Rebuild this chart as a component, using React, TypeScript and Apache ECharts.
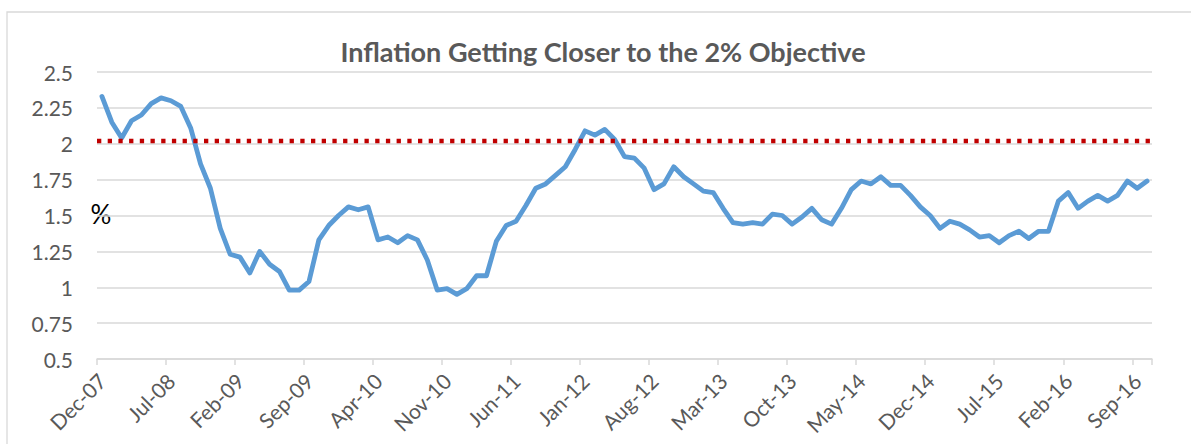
import React, { useEffect, useRef } from "react";
import * as echarts from "echarts";

const TITLE = "Inflation Getting Closer to the 2% Objective";
const START_YEAR = 2007;
const START_MONTH = 11; // December (0-based)
const MONTH_NAMES = ["Jan", "Feb", "Mar", "Apr", "May", "Jun", "Jul", "Aug", "Sep", "Oct", "Nov", "Dec"];

const inflation: number[] = [
  2.33, 2.15, 2.04, 2.16, 2.2, 2.28, 2.32, 2.3, 2.26, 2.11,
  1.86, 1.69, 1.41, 1.23, 1.21, 1.1, 1.25, 1.16, 1.11, 0.98,
  0.98, 1.04, 1.33, 1.43, 1.5, 1.56, 1.54, 1.56, 1.33, 1.35,
  1.31, 1.36, 1.33, 1.19, 0.98, 0.99, 0.95, 0.99, 1.08, 1.08,
  1.32, 1.43, 1.46, 1.57, 1.69, 1.72, 1.78, 1.84, 1.96, 2.09,
  2.06, 2.1, 2.03, 1.91, 1.9, 1.83, 1.68, 1.72, 1.84, 1.77,
  1.72, 1.67, 1.66, 1.55, 1.45, 1.44, 1.45, 1.44, 1.51, 1.5,
  1.44, 1.49, 1.55, 1.47, 1.44, 1.55, 1.68, 1.74, 1.72, 1.77,
  1.71, 1.71, 1.64, 1.56, 1.5, 1.41, 1.46, 1.44, 1.4, 1.35,
  1.36, 1.31, 1.36, 1.39, 1.34, 1.39, 1.39, 1.6, 1.66, 1.55,
  1.6, 1.64, 1.6, 1.64, 1.74, 1.69, 1.74,
];

const OBJECTIVE = 2.02;
const Y_MIN = 0.5;
const Y_MAX = 2.5;
const Y_STEP = 0.25;

const months: string[] = inflation.map((_, i) => {
  const m = START_MONTH + i;
  const y = START_YEAR + Math.floor(m / 12);
  return `${MONTH_NAMES[m % 12]}-${String(y % 100).padStart(2, "0")}`;
});

const FONT = "Lato, 'Open Sans', sans-serif";
const TEXT_COLOR = "#595959";
const GRID_COLOR = "#d9d9d9";

export default function App() {
  const ref = useRef<HTMLDivElement>(null);

  useEffect(() => {
    document.body.style.margin = "0";
    if (!ref.current) return;
    const chart = echarts.init(ref.current, undefined, { renderer: "svg" });
    chart.setOption({
      animation: false,
      backgroundColor: "#ffffff",
      grid: { left: 97, right: 39, top: 72, bottom: 85, containLabel: false },
      graphic: [
        {
          type: "rect",
          shape: { x: 7, y: 12, width: 1400, height: 600 },
          style: { fill: "none", stroke: GRID_COLOR, lineWidth: 1.3 },
          silent: true,
          z: -1,
        },
        {
          type: "text",
          x: 603,
          y: 51,
          style: {
            text: TITLE,
            fill: TEXT_COLOR,
            font: `bold 27px ${FONT}`,
            align: "center",
            verticalAlign: "middle",
          },
        },
        {
          type: "text",
          x: 101,
          y: 214,
          style: {
            text: "%",
            fill: "#000000",
            font: `26px ${FONT}`,
            align: "center",
            verticalAlign: "middle",
          },
        },
      ],
      xAxis: {
        type: "category",
        data: months,
        boundaryGap: true,
        axisLine: { show: true, lineStyle: { color: GRID_COLOR, width: 1.5 } },
        axisTick: { show: true, interval: 6, length: 6, alignWithLabel: false, lineStyle: { color: GRID_COLOR, width: 1.5 } },
        axisLabel: {
          interval: 6,
          rotate: 45,
          margin: 18,
          color: TEXT_COLOR,
          fontSize: 21,
          fontFamily: FONT,
        },
        splitLine: { show: false },
      },
      yAxis: {
        type: "value",
        min: Y_MIN,
        max: Y_MAX,
        interval: Y_STEP,
        axisLine: { show: false },
        axisTick: { show: false },
        axisLabel: { color: TEXT_COLOR, fontSize: 21, fontFamily: FONT, margin: 24 },
        splitLine: { show: true, lineStyle: { color: GRID_COLOR, width: 1.5 } },
      },
      series: [
        {
          type: "line",
          data: inflation,
          showSymbol: false,
          symbol: "none",
          lineStyle: { color: "#5b9bd5", width: 4.8, join: "round", cap: "round" },
          z: 3,
          markLine: {
            silent: true,
            symbol: "none",
            label: { show: false },
            lineStyle: { color: "#c00000", width: 4.3, type: [4.3, 6.4], cap: "butt" },
            data: [{ yAxis: OBJECTIVE }],
            z: 4,
          },
        },
      ],
    });
    return () => chart.dispose();
  }, []);

  return <div ref={ref} style={{ position: "fixed", left: 0, top: 0, width: 1191, height: 444 }} />;
}
